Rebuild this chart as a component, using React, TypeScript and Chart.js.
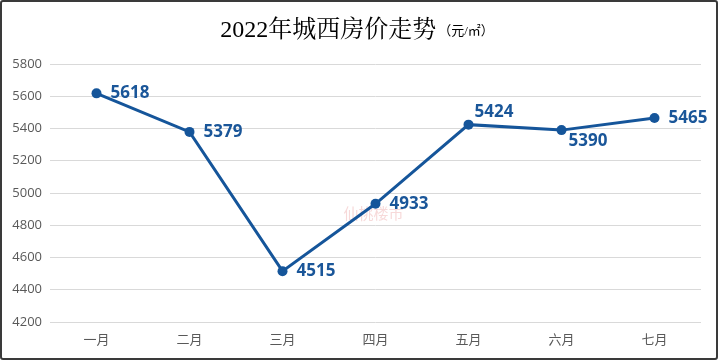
import React, { useEffect, useRef } from "react";
import { Chart, registerables } from "chart.js";

Chart.register(...registerables);

const months = ["一月", "二月", "三月", "四月", "五月", "六月", "七月"];
const prices = [5618, 5379, 4515, 4933, 5424, 5390, 5465];
const labelSides = ["right", "right", "right", "right", "above", "below", "right"];
const yMin = 4200;
const yMax = 5800;
const yStep = 200;
const titleMain = "2022年城西房价走势";
const titleUnit = "（元/㎡）";
const watermark = "仙桃楼市";

const lineColor = "#15559A";
const labelColor = "#1A5699";

const titlePlugin = {
  id: "titleMixed",
  beforeDraw(chart: any) {
    const ctx = chart.ctx;
    ctx.save();
    const mainFont = '24px "Liberation Serif", "Noto Serif CJK SC", "Noto Sans CJK SC", serif';
    const unitFont = '13px "Liberation Serif", "Noto Sans CJK SC", serif';
    ctx.font = mainFont;
    const w1 = ctx.measureText(titleMain).width;
    ctx.font = unitFont;
    const w2 = ctx.measureText(titleUnit).width;
    const total = w1 + 2 + w2;
    const x0 = chart.width / 2 - total / 2 - 2;
    const baseY = 35;
    ctx.fillStyle = "#000000";
    ctx.textBaseline = "alphabetic";
    ctx.textAlign = "left";
    ctx.font = mainFont;
    ctx.fillText(titleMain, x0, baseY);
    ctx.font = unitFont;
    ctx.fillText(titleUnit, x0 + w1 + 2, baseY - 2);
    // watermark
    const ca = chart.chartArea;
    ctx.font = '15px "Noto Sans CJK SC", sans-serif';
    ctx.fillStyle = "rgba(235, 160, 160, 0.4)";
    ctx.textAlign = "center";
    ctx.textBaseline = "middle";
    ctx.fillText(watermark, (ca.left + ca.right) / 2 - 2, 211);
    ctx.restore();
  },
};

const labelPlugin = {
  id: "pointLabels",
  afterDatasetsDraw(chart: any) {
    const ctx = chart.ctx;
    const meta = chart.getDatasetMeta(0);
    ctx.save();
    ctx.font = 'bold 17px "Open Sans", "Liberation Sans", sans-serif';
    ctx.fillStyle = labelColor;
    ctx.textAlign = "left";
    ctx.textBaseline = "middle";
    meta.data.forEach((pt: any, i: number) => {
      const side = labelSides[i];
      let x = pt.x + 14;
      let y = pt.y;
      if (side === "above") {
        x = pt.x + 6;
        y = pt.y - 12;
      } else if (side === "below") {
        x = pt.x + 7;
        y = pt.y + 11;
      }
      ctx.fillText(String(prices[i]), x, y);
    });
    ctx.restore();
  },
};

export default function App() {
  const ref = useRef<HTMLCanvasElement>(null);
  useEffect(() => {
    if (!ref.current) return;
    const chart = new Chart(ref.current, {
      type: "line",
      data: {
        labels: months,
        datasets: [
          {
            data: prices,
            borderColor: lineColor,
            backgroundColor: lineColor,
            borderWidth: 3,
            pointRadius: 5,
            pointHoverRadius: 5,
            pointBackgroundColor: lineColor,
            pointBorderColor: lineColor,
            pointBorderWidth: 0,
            tension: 0,
          },
        ],
      },
      options: {
        animation: false,
        responsive: false,
        layout: { padding: { top: 62, right: 15, left: 0, bottom: 0 } },
        plugins: {
          legend: { display: false },
          title: { display: false },
          tooltip: { enabled: false },
        },
        scales: {
          x: {
            offset: true,
            grid: { display: false, drawTicks: false },
            border: { display: false },
            ticks: {
              padding: 10,
              color: "#595959",
              font: { family: '"Open Sans", "Noto Sans CJK SC", sans-serif', size: 13 },
            },
            afterFit: (s: any) => {
              s.height = 36;
            },
          },
          y: {
            min: yMin,
            max: yMax,
            grid: { color: "#D9D9D9", lineWidth: 1, drawTicks: false },
            border: { display: false },
            ticks: {
              stepSize: yStep,
              padding: 8,
              color: "#595959",
              font: { family: '"Open Sans", "Liberation Sans", sans-serif', size: 13 },
              callback: (v: any) => String(v),
            },
            afterFit: (s: any) => {
              s.width = 48;
            },
          },
        },
      },
      plugins: [titlePlugin, labelPlugin],
    });
    return () => chart.destroy();
  }, []);
  return (
    <div
      style={{
        position: "absolute",
        left: 0,
        top: 0,
        width: 718,
        height: 360,
        border: "2px solid #3A3A3A",
        borderRadius: 3,
        boxSizing: "border-box",
        background: "#ffffff",
      }}
    >
      <canvas ref={ref} width={714} height={356} style={{ display: "block" }} />
    </div>
  );
}
